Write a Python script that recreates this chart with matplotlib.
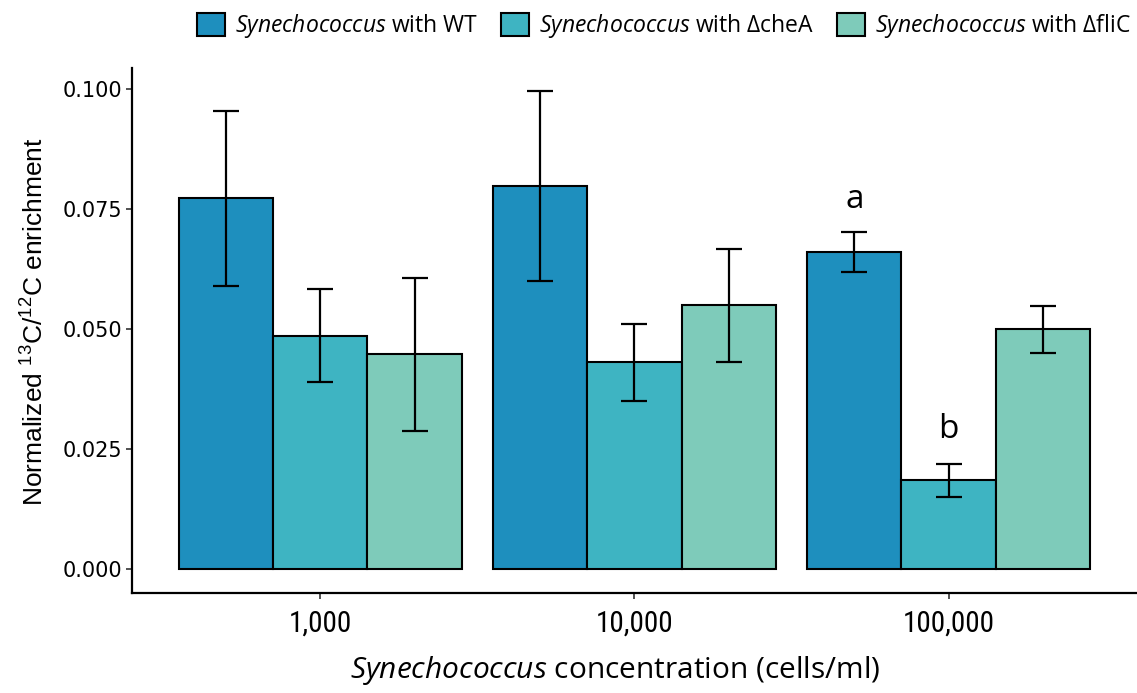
import matplotlib
matplotlib.use("Agg")
import matplotlib.pyplot as plt
import numpy as np
from matplotlib.patches import Patch
from matplotlib import font_manager as fm

# Synechococcus concentrations and strains
concentrations = ["1,000", "10,000", "100,000"]
strains = ["WT", "\u0394cheA", "\u0394fliC"]

# mean normalized 13C/12C enrichment per strain (one value per concentration)
wt_mean = [0.0772, 0.0797, 0.0660]
chea_mean = [0.0486, 0.0430, 0.0184]
flic_mean = [0.0447, 0.0549, 0.0499]

# error bar half-widths
wt_err = [0.0183, 0.0198, 0.0041]
chea_err = [0.0097, 0.0081, 0.0034]
flic_err = [0.0159, 0.0118, 0.0049]

# significance letters (strain index, concentration index, letter, y)
sig_letters = [(0, 2, "a", 0.0770), (1, 2, "b", 0.0290)]

colors = ["#1E8FBE", "#3EB4C2", "#7ECBBA"]
means = [wt_mean, chea_mean, flic_mean]
errs = [wt_err, chea_err, flic_err]


def pick_family(*names):
    available = {f.name for f in fm.fontManager.ttflist}
    for n in names:
        if n in available:
            return n
    return "DejaVu Sans"


narrow = pick_family("Liberation Sans Narrow", "Roboto Condensed",
                     "Open Sans Condensed", "Arial Narrow")
sans = pick_family("Liberation Sans", "Arial")
humanist = pick_family("Open Sans", "Noto Sans")

plt.rcParams["mathtext.fontset"] = "custom"
plt.rcParams["mathtext.rm"] = sans
plt.rcParams["mathtext.it"] = humanist + ":italic"

fig = plt.figure(figsize=(11.37, 6.93), dpi=100)
ax = fig.add_axes([0.116, 0.145, 0.884, 0.757])

x = np.arange(len(concentrations))
width = 0.3
offsets = [-width, 0.0, width]

for i in range(3):
    ax.bar(x + offsets[i], means[i], width=width, color=colors[i],
           edgecolor="black", linewidth=1.5, zorder=2)
    ax.errorbar(x + offsets[i], means[i], yerr=errs[i], fmt="none",
                ecolor="black", elinewidth=1.6, capsize=9.5, capthick=1.6,
                zorder=3)

for si, ci, letter, yv in sig_letters:
    ax.text(x[ci] + offsets[si], yv, letter, ha="center", va="center",
            fontsize=24, family=humanist)

ax.set_xlim(-0.6, 2.6)
ax.set_ylim(-0.00497, 0.1044)
ax.set_xticks(x)
ax.set_xticklabels(concentrations, family=narrow, fontsize=21,
                   fontstretch="condensed")
ax.set_yticks([0.0, 0.025, 0.05, 0.075, 0.1])
ax.set_yticklabels(["0.000", "0.025", "0.050", "0.075", "0.100"],
                   family="DejaVu Sans", fontsize=15)

for side in ["top", "right"]:
    ax.spines[side].set_visible(False)
for side in ["left", "bottom"]:
    ax.spines[side].set_linewidth(1.6)
ax.tick_params(axis="both", length=4, width=1.2, color="#333333")
ax.tick_params(axis="x", pad=8)
ax.tick_params(axis="y", pad=3)

ax.set_xlabel(r"$\mathit{Synechococcus}$ concentration (cells/ml)",
              family=humanist, fontsize=21.5, labelpad=13)
ax.xaxis.set_label_coords(0.481, -0.118)
ax.set_ylabel(r"Normalized $^{13}$C/$^{12}$C enrichment",
              family=sans, fontsize=19, labelpad=8)
ax.yaxis.set_label_coords(-0.083, 0.516)

handles = [Patch(facecolor=colors[i], edgecolor="black", linewidth=1.5)
           for i in range(3)]
labels = [r"$\mathit{Synechococcus}$ with " + s for s in strains]
fig.legend(handles, labels, loc="center", bbox_to_anchor=(0.584, 0.962),
           ncol=3, frameon=False, prop={"family": humanist, "size": 16.5},
           handlelength=1.2, handleheight=1.2, handletextpad=0.45,
           columnspacing=1.0)

fig.savefig("out.png", dpi=100)
